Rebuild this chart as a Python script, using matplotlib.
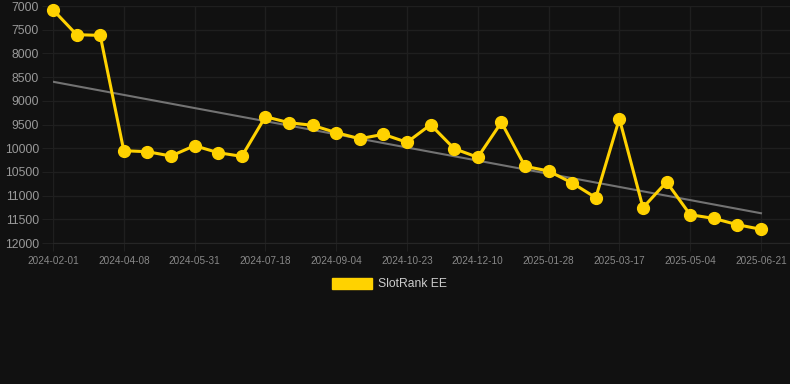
"""
SlotRank EE rank over time, with a linear trend line.
"""

import matplotlib.pyplot as plt
from matplotlib.patches import Patch
import numpy as np

plt.rcParams['font.family'] = ['Liberation Sans', 'DejaVu Sans']

# rank values, one per observation (lower rank number = better, axis inverted)
ranks = [7080, 7605, 7620, 10053, 10074, 10165, 9947, 10095, 10172, 9335,
         9462, 9517, 9672, 9800, 9707, 9876, 9504, 10010, 10192, 9454,
         10382, 10481, 10734, 11044, 9377, 11255, 10713, 11403, 11481, 11614,
         11711]

# every third observation carries a date label
tick_labels = ['2024-02-01', '2024-04-08', '2024-05-31', '2024-07-18', '2024-09-04',
               '2024-10-23', '2024-12-10', '2025-01-28', '2025-03-17', '2025-05-04',
               '2025-06-21']
y_ticks = [7000, 7500, 8000, 8500, 9000, 9500, 10000, 10500, 11000, 11500, 12000]

BG = '#111111'
GRID = '#1f1f1f'
GOLD = '#FFD200'

x = np.arange(len(ranks))

fig = plt.figure(figsize=(7.9, 3.84), dpi=100, facecolor=BG)
ax = fig.add_axes([53/790, 141/384, 737/790, 237/384], facecolor=BG)

# trend line
slope, intercept = np.polyfit(x, ranks, 1)
ax.plot(x, slope * x + intercept, color='#737373', linewidth=1.5, zorder=2)

ax.plot(x, ranks, color=GOLD, linewidth=2.2, marker='o', markersize=8.5,
        zorder=3, clip_on=False)

ax.set_ylim(12000, 7000)
ax.set_xlim(0, 31.23)
ax.set_yticks(y_ticks)
ax.set_yticklabels([str(v) for v in y_ticks])
ax.set_xticks(x[::3])
ax.set_xticklabels(tick_labels)

ax.grid(True, color=GRID, linewidth=1)
ax.set_axisbelow(True)
for side in ['top', 'right', 'left']:
    ax.spines[side].set_visible(False)
ax.spines['bottom'].set_color('#262626')

ax.tick_params(axis='y', length=8, color=GRID, labelcolor='#999999', labelsize=8.7, pad=2)
ax.tick_params(axis='x', length=6, color=GRID, labelcolor='#888888', labelsize=7.2, pad=3)

fig.legend(handles=[Patch(facecolor=GOLD, edgecolor=GOLD)], labels=['SlotRank EE'],
           loc='center', bbox_to_anchor=(0.493, 1 - 284/384), frameon=False,
           fontsize=8.7, labelcolor='#cccccc', handlelength=3.3, handleheight=1.0,
           handletextpad=0.5)

fig.savefig('out.png', dpi=100, facecolor=BG)
